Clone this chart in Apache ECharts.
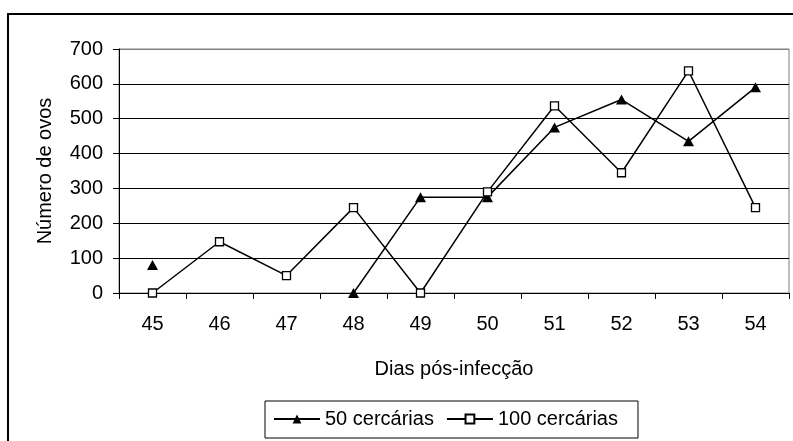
<!DOCTYPE html>
<html>
<head>
<meta charset="utf-8">
<script src="https://cdn.jsdelivr.net/npm/echarts@6/dist/echarts.min.js"></script>
<style>
  html, body { margin: 0; padding: 0; background: #fff; }
  #chart { width: 793px; height: 441px; }
</style>
</head>
<body>
<div id="chart"></div>
<script>
// Days after infection
const dias = ['45', '46', '47', '48', '49', '50', '51', '52', '53', '54'];
// Egg counts per group (null = not measured)
const cercarias50 = [80, null, null, 0, 275, 275, 475, 555, 435, 590];
const cercarias100 = [0, 147, 50, 245, 0, 290, 537, 345, 637, 245];
// Y axis range
const yMin = 0, yMax = 700, yStep = 100;

const FONT = 'Liberation Sans, Arial, sans-serif';
const FS = 20;
const chart = echarts.init(document.getElementById('chart'), null, { renderer: 'canvas' });

chart.setOption({
  animation: false,
  backgroundColor: '#fff',
  textStyle: { fontFamily: FONT, color: '#000' },
  graphic: [{
    type: 'rect',
    shape: { x: 8, y: 14, width: 820, height: 500 },
    style: { fill: 'none', stroke: '#000', lineWidth: 2 },
    z: 0, silent: true
  }],
  grid: {
    left: 119, right: 4, top: 49, bottom: 148,
    show: true, borderColor: '#808080', borderWidth: 1, backgroundColor: 'transparent'
  },
  legend: {
    left: 265, top: 401,
    padding: [8, 20, 9, 8],
    borderColor: '#000', borderWidth: 1,
    itemWidth: 46, itemHeight: 11, itemGap: 12,
    textStyle: { fontFamily: FONT, fontSize: FS, color: '#000' },
    data: ['50 cercárias', '100 cercárias']
  },
  xAxis: {
    type: 'category',
    data: dias,
    boundaryGap: true,
    name: 'Dias pós-infecção',
    nameLocation: 'middle',
    nameGap: 66,
    nameTextStyle: { fontFamily: FONT, fontSize: FS, color: '#000' },
    axisLine: { lineStyle: { color: '#000', width: 1 } },
    axisTick: { show: true, interval: 0, length: 6, lineStyle: { color: '#000' } },
    axisLabel: { fontFamily: FONT, fontSize: FS, color: '#000', margin: 21 },
    splitLine: { show: false }
  },
  yAxis: {
    type: 'value',
    min: yMin, max: yMax, interval: yStep,
    name: 'Número de ovos',
    nameLocation: 'middle',
    nameGap: 64,
    nameTextStyle: { fontFamily: FONT, fontSize: FS, color: '#000' },
    axisLine: { show: true, lineStyle: { color: '#000', width: 1 } },
    axisTick: { show: true, length: 6, lineStyle: { color: '#000' } },
    axisLabel: { fontFamily: FONT, fontSize: FS, color: '#000', margin: 16 },
    splitLine: {
      show: true,
      lineStyle: { color: ['#000', '#000', '#000', '#000', '#000', '#000', '#000', '#808080'], width: 1 }
    }
  },
  series: [
    {
      name: '50 cercárias',
      type: 'line',
      data: cercarias50,
      connectNulls: false,
      symbol: 'triangle',
      symbolSize: [11, 10],
      showAllSymbol: true,
      lineStyle: { color: '#000', width: 1.5 },
      itemStyle: { color: '#000', borderColor: '#000', borderWidth: 0 },
      z: 3
    },
    {
      name: '100 cercárias',
      type: 'line',
      data: cercarias100,
      symbol: 'rect',
      symbolSize: 8,
      showAllSymbol: true,
      lineStyle: { color: '#000', width: 1.5 },
      itemStyle: { color: '#fff', borderColor: '#000', borderWidth: 1.3 },
      z: 4
    }
  ]
});
</script>
</body>
</html>
